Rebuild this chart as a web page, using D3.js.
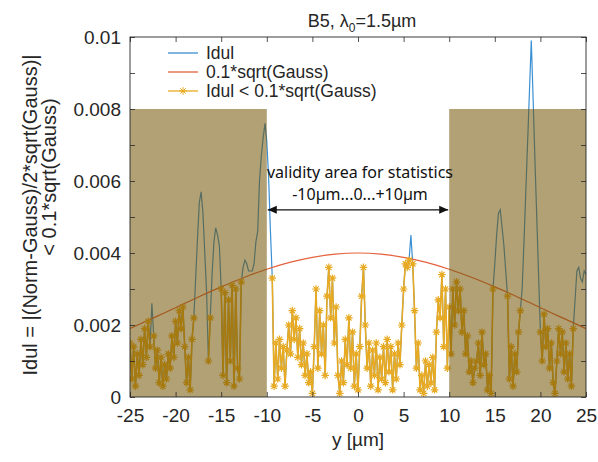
<!DOCTYPE html>
<html lang="en">
<head>
  <meta charset="UTF-8">
  <title>B5 Idul profile</title>
  <script src="https://d3js.org/d3.v7.min.js"></script>
  <style>
    body { margin: 0; background: #fff; }
    svg { display: block; font-family: "Liberation Sans", Arial, sans-serif; }
  </style>
</head>
<body>
  <div id="chart"></div>
  <script>
    // Sampling of the profile (y in µm)
    const yStart = -25;
    const yStep = 0.2;

    // Idul along the profile, in units of 1e-4 (one row = 2 µm)
    const idulE4 = [
      15, 5, 14, 3, 12, 6, 16, 9, 19, 11,      // -25.0 .. -23.2
      21, 14, 26, 17, 8, 13, 4, 11, 3, 9,      // -23.0 .. -21.2
      5, 12, 8, 17, 11, 21, 15, 24, 19, 25,    // -21.0 .. -19.2
      14, 4, 11, 2, 16, 22, 33, 44, 54, 57,    // -19.0 .. -17.2
      51, 40, 29, 10, 22, 34, 43, 47, 45, 42,  // -17.0 .. -15.2
      30, 6, 29, 4, 27, 10, 31, 3, 30, 8,      // -15.0 .. -13.2
      5, 32, 36, 38, 37, 35, 35, 35, 37, 43,   // -13.0 .. -11.2
      46, 60, 67, 72, 76, 71, 61, 46, 33, 3,   // -11.0 .. -9.2
      15, 5, 16, 8, 14, 3, 13, 20, 12, 24,     // -9.0 .. -7.2
      16, 22, 11, 19, 9, 15, 6, 12, 4, 7,      // -7.0 .. -5.2
      1, 14, 30, 8, 24, 12, 20, 6, 28, 36,     // -5.0 .. -3.2
      22, 33, 15, 25, 6, 1, 10, 4, 16, 9,      // -3.0 .. -1.2
      22, 8, 18, 3, 12, 2, 14, 28, 36, 20,     // -1.0 .. 0.8
      8, 15, 3, 13, 6, 15, 2, 11, 5, 14,       // 1.0 .. 2.8
      4, 16, 7, 14, 2, 12, 5, 15, 9, 20,       // 3.0 .. 4.8
      30, 37, 36, 38, 45, 37, 24, 8, 15, 2,    // 5.0 .. 6.8
      6, 1, 10, 3, 9, 4, 11, 2, 18, 27,        // 7.0 .. 8.8
      22, 34, 14, 30, 8, 25, 12, 30, 20, 32,   // 9.0 .. 10.8
      24, 30, 18, 24, 12, 17, 7, 10, 4, 8,     // 11.0 .. 12.8
      10, 15, 6, 18, 9, 12, 2, 6, 1, 30,       // 13.0 .. 14.8
      37, 45, 51, 52, 47, 42, 35, 28, 5, 14,   // 15.0 .. 16.8
      3, 12, 7, 18, 24, 30, 43, 57, 71, 85,    // 17.0 .. 18.8
      99, 83, 66, 50, 34, 18, 10, 23, 14, 19,  // 19.0 .. 20.8
      8, 15, 4, 1, 10, 19, 12, 18, 7, 15,      // 21.0 .. 22.8
      5, 12, 3, 19, 27, 35, 36, 33, 32, 35,    // 23.0 .. 24.8
      34                                       // 25.0
    ];

    // 0.1*sqrt(Gauss), read every 2.5 µm
    const gaussY = [-25, -22.5, -20, -17.5, -15, -12.5, -10, -7.5, -5, -2.5, 0,
                    2.5, 5, 7.5, 10, 12.5, 15, 17.5, 20, 22.5, 25];
    const gaussValues = [0.00190, 0.00219, 0.00248, 0.00278, 0.00306, 0.00332, 0.00355,
                         0.00374, 0.00388, 0.00397, 0.00400, 0.00397, 0.00388, 0.00374,
                         0.00355, 0.00332, 0.00306, 0.00278, 0.00248, 0.00219, 0.00190];

    // Ticks
    const xTicks = [-25, -20, -15, -10, -5, 0, 5, 10, 15, 20, 25];
    const yTicks = [0, 0.002, 0.004, 0.006, 0.008, 0.01];
    const yMinorTicks = [0, 0.001, 0.002, 0.003, 0.004, 0.005, 0.006, 0.007, 0.008, 0.009, 0.01];

    // Areas outside the validity range
    const shadedRanges = [[-25, -10], [10, 25]];
    const shadeTop = 0.008;

    const legendLabels = ["Idul", "0.1*sqrt(Gauss)", "Idul < 0.1*sqrt(Gauss)"];

    // Colours
    const blue = "#3b8fd3";
    const red = "#e4623d";
    const yellow = "#e8aa22";
    const axisColor = "#262626";

    // Dimensions
    const W = 598, H = 462;
    const margin = { top: 37, right: 12, bottom: 65, left: 130 };
    const width = W - margin.left - margin.right;
    const height = H - margin.top - margin.bottom;

    const svg = d3.select("#chart").append("svg")
      .attr("width", W)
      .attr("height", H);

    const x = d3.scaleLinear().domain([-25, 25]).range([0, width]);
    const y = d3.scaleLinear().domain([0, 0.01]).range([height, 0]);

    // threshold as function of position
    const threshold = d3.scaleLinear().domain(gaussY).range(gaussValues);

    const idul = idulE4.map((v, i) => {
      const pos = yStart + i * yStep;
      const val = v * 1e-4;
      return { pos: pos, v: val, below: val < threshold(pos) };
    });

    const g = svg.append("g")
      .attr("transform", `translate(${margin.left},${margin.top})`);

    g.append("clipPath").attr("id", "clip")
      .append("rect").attr("width", width).attr("height", height);

    const plot = g.append("g").attr("clip-path", "url(#clip)");

    // Idul (blue)
    const line = d3.line().x(d => x(d.pos)).y(d => y(d.v));
    plot.append("path")
      .datum(idul)
      .attr("fill", "none")
      .attr("stroke", blue)
      .attr("stroke-width", 1.2)
      .attr("d", line);

    // 0.1*sqrt(Gauss) (red)
    const gaussLine = d3.line()
      .x((d, i) => x(gaussY[i]))
      .y(d => y(d))
      .curve(d3.curveNatural);
    plot.append("path")
      .datum(gaussValues)
      .attr("fill", "none")
      .attr("stroke", red)
      .attr("stroke-width", 1.2)
      .attr("d", gaussLine);

    // Idul below threshold (yellow line + stars)
    plot.append("path")
      .datum(idul)
      .attr("fill", "none")
      .attr("stroke", yellow)
      .attr("stroke-width", 1.6)
      .attr("d", line.defined(d => d.below));

    const star = "M-3.8,0H3.8M0,-3.8V3.8M-2.7,-2.7L2.7,2.7M-2.7,2.7L2.7,-2.7";
    plot.selectAll(".star")
      .data(idul.filter(d => d.below))
      .enter().append("path")
      .attr("class", "star")
      .attr("transform", d => `translate(${x(d.pos)},${y(d.v)})`)
      .attr("d", star)
      .attr("fill", "none")
      .attr("stroke", yellow)
      .attr("stroke-width", 1.2);

    // Shaded areas
    g.selectAll(".shade")
      .data(shadedRanges)
      .enter().append("rect")
      .attr("class", "shade")
      .attr("x", d => x(d[0]))
      .attr("width", d => x(d[1]) - x(d[0]))
      .attr("y", y(shadeTop))
      .attr("height", y(0) - y(shadeTop))
      .attr("fill", "#6f5200")
      .attr("fill-opacity", 0.54);

    // Axes (ticks pointing inward)
    const fmt = d => String(+d.toFixed(3));

    const styleAxis = sel => {
      sel.select(".domain").remove();
      sel.selectAll("line").attr("stroke", axisColor).attr("stroke-width", 0.8);
      sel.selectAll("text").attr("fill", axisColor).attr("font-size", 19);
    };

    g.append("g")
      .attr("transform", `translate(0,${height})`)
      .call(d3.axisBottom(x).tickValues(xTicks).tickSizeInner(-5).tickSizeOuter(0)
        .tickPadding(12).tickFormat(d => String(d)))
      .call(styleAxis);

    g.append("g")
      .call(d3.axisTop(x).tickValues(xTicks).tickSizeInner(-5).tickSizeOuter(0).tickFormat(""))
      .call(styleAxis);

    g.append("g")
      .call(d3.axisLeft(y).tickValues(yMinorTicks).tickSizeInner(-5).tickSizeOuter(0).tickFormat(""))
      .call(styleAxis);

    g.append("g")
      .call(d3.axisLeft(y).tickValues(yTicks).tickSize(0).tickPadding(9).tickFormat(fmt))
      .call(styleAxis);

    g.append("g")
      .attr("transform", `translate(${width},0)`)
      .call(d3.axisRight(y).tickValues(yMinorTicks).tickSizeInner(-5).tickSizeOuter(0).tickFormat(""))
      .call(styleAxis);

    // Frame
    g.append("rect")
      .attr("width", width)
      .attr("height", height)
      .attr("fill", "none")
      .attr("stroke", axisColor)
      .attr("stroke-width", 0.9);

    // Title
    const title = svg.append("text")
      .attr("x", margin.left + width / 2 + 4)
      .attr("y", 27)
      .attr("text-anchor", "middle")
      .attr("font-size", 18)
      .attr("fill", axisColor);
    title.append("tspan").text("B5, λ");
    title.append("tspan").attr("font-size", 12).attr("dy", 5).text("0");
    title.append("tspan").attr("dy", -5).text("=1.5µm");

    // Axis labels
    svg.append("text")
      .attr("x", margin.left + width / 2)
      .attr("y", 446)
      .attr("text-anchor", "middle")
      .attr("font-size", 19)
      .attr("fill", axisColor)
      .text("y [µm]");

    svg.append("text")
      .attr("transform", "translate(37,215) rotate(-90)")
      .attr("text-anchor", "middle")
      .attr("font-size", 20)
      .attr("fill", axisColor)
      .text("Idul = |(Norm-Gauss)/2*sqrt(Gauss)|");

    svg.append("text")
      .attr("transform", "translate(56,177) rotate(-90)")
      .attr("text-anchor", "middle")
      .attr("font-size", 20)
      .attr("fill", axisColor)
      .text("< 0.1*sqrt(Gauss)");

    // Legend
    const legendColors = [blue, red, yellow];
    const legend = g.selectAll(".legend")
      .data(legendLabels)
      .enter().append("g")
      .attr("class", "legend")
      .attr("transform", (d, i) => `translate(38,${16 + i * 19})`);

    legend.append("line")
      .attr("x1", 0).attr("x2", 30)
      .attr("stroke", (d, i) => legendColors[i])
      .attr("stroke-width", 1.3);

    legend.filter((d, i) => i === 2).append("path")
      .attr("transform", "translate(15,0)")
      .attr("d", star)
      .attr("fill", "none")
      .attr("stroke", yellow);

    legend.append("text")
      .attr("x", 38)
      .attr("dy", "0.36em")
      .attr("font-size", 17.5)
      .attr("fill", axisColor)
      .text(d => d);

    // Validity annotation
    const arrowY = y(0.0052);
    const ax0 = x(-10) + 1, ax1 = x(10) - 1;
    g.append("line")
      .attr("x1", ax0).attr("x2", ax1)
      .attr("y1", arrowY).attr("y2", arrowY)
      .attr("stroke", "#111").attr("stroke-width", 1.3);
    g.append("path")
      .attr("d", `M${ax0},${arrowY}l9,-4v8z M${ax1},${arrowY}l-9,-4v8z`)
      .attr("fill", "#111");

    g.append("text")
      .attr("x", x(0) + 2)
      .attr("y", arrowY - 32)
      .attr("text-anchor", "middle")
      .attr("font-family", "'Noto Sans', 'Open Sans', sans-serif")
      .attr("font-size", 16)
      .attr("fill", "#111")
      .text("validity area for statistics");

    g.append("text")
      .attr("x", x(0) + 2)
      .attr("y", arrowY - 10)
      .attr("text-anchor", "middle")
      .attr("font-family", "'Noto Sans', 'Open Sans', sans-serif")
      .attr("font-size", 16)
      .attr("fill", "#111")
      .text("-10µm...0...+10µm");
  </script>
</body>
</html>
